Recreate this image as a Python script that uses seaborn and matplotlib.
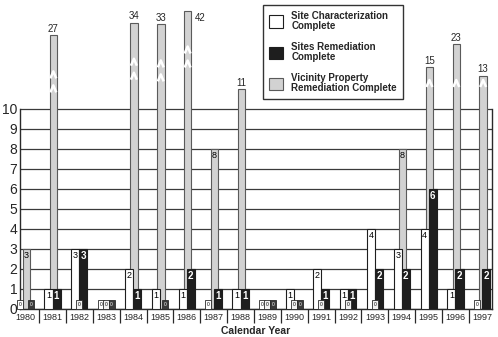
import numpy as np
import pandas as pd
import matplotlib
matplotlib.use("Agg")
import matplotlib.pyplot as plt
import seaborn as sns
from matplotlib.patches import Patch

# ---- data -------------------------------------------------------------
years = list(range(1980, 1998))
site_characterization = [0, 1, 3, 0, 2, 1, 1, 0, 1, 0, 1, 2, 1, 4, 3, 4, 1, 0]
sites_remediation = [0, 1, 3, 0, 1, 0, 2, 1, 1, 0, 0, 1, 1, 2, 2, 6, 2, 2]
vicinity_property = [3, 27, 0, 0, 34, 33, 42, 8, 11, 0, 0, 0, 0, 0, 8, 15, 23, 13]
series_labels = [
    "Site Characterization\nComplete",
    "Sites Remediation\nComplete",
    "Vicinity Property\nRemediation Complete",
]
y_ticks = list(range(0, 11))

df = pd.DataFrame({
    "year": years,
    "sc": site_characterization,
    "sr": sites_remediation,
    "vp": vicinity_property,
})

# ---- style ------------------------------------------------------------
sns.set_theme(style="white")
plt.rcParams["font.family"] = ["Liberation Sans", "DejaVu Sans"]

WHITE = "#ffffff"
BLACK = "#1e1e1e"
GRAY = "#d2d2d2"
GRAY_EDGE = "#5a5a5a"
LINE = "#2a2a2a"

# linear up to 10, compressed above (broken-axis look)
P = 0.46


def fwd(v):
    v = np.asarray(v, dtype=float)
    return np.where(v <= 10, v, 10 + np.clip(v - 10, 0, None) ** P)


def inv(t):
    t = np.asarray(t, dtype=float)
    return np.where(t <= 10, t, 10 + np.clip(t - 10, 0, None) ** (1 / P))


TOP_T = 15.45

fig = plt.figure(figsize=(4.98, 3.37), dpi=100)
ax = fig.add_axes([20 / 498, 1 - 309 / 337, 472 / 498, 309 / 337])

OFF_SC, OFF_SR, OFF_VP = -0.15, 0.15, 0.03
BAR_W = 0.3

vp = df[df.vp > 0]
sns.barplot(x=(vp.year + OFF_VP).to_numpy(), y=vp.vp.to_numpy(), native_scale=True,
            width=0.28, color=GRAY, edgecolor=GRAY_EDGE, linewidth=0.8,
            saturation=1, errorbar=None, ax=ax, zorder=2)
sc = df[df.sc > 0]
sns.barplot(x=(sc.year + OFF_SC).to_numpy(), y=sc.sc.to_numpy(), native_scale=True,
            width=BAR_W, color=WHITE, edgecolor=BLACK, linewidth=0.8,
            saturation=1, errorbar=None, ax=ax, zorder=3)
sr = df[df.sr > 0]
sns.barplot(x=(sr.year + OFF_SR).to_numpy(), y=sr.sr.to_numpy(), native_scale=True,
            width=BAR_W, color=BLACK, edgecolor=BLACK, linewidth=0.8,
            saturation=1, errorbar=None, ax=ax, zorder=3)

ax.set_yscale("function", functions=(fwd, inv))
ax.set_ylim(0, float(inv(TOP_T)))
ax.set_xlim(1979.79, 1997.36)

# ---- value labels -----------------------------------------------------
for yr, v in zip(years, site_characterization):
    if v > 0:
        ax.text(yr + OFF_SC, v - 0.08, str(v), ha="center", va="top",
                fontsize=6.5, color="black", zorder=5)
for yr, v in zip(years, sites_remediation):
    if v > 0:
        ax.text(yr + OFF_SR, v - 0.08, str(v), ha="center", va="top",
                fontsize=7, color="white", fontweight="bold", zorder=5)
for yr, v in zip(years, vicinity_property):
    x = yr + OFF_VP
    if v == 0:
        continue
    if v <= 10:
        ax.text(x, v - 0.08, str(v), ha="center", va="top",
                fontsize=6.5, color="black", zorder=5)
        continue
    top = float(fwd(v))
    if top + 1.0 > TOP_T:
        ax.annotate(str(v), (x, v), xytext=(5, -2), textcoords="offset points",
                    ha="left", va="top", fontsize=7, zorder=5)
    else:
        ax.annotate(str(v), (x, v), xytext=(0, 1), textcoords="offset points",
                    ha="center", va="bottom", fontsize=7, zorder=5)
    # break marks on the tall bars
    marks = [11.45] if v < 25 else [top - 2.5, top - 1.8]
    for t in marks:
        xs = [x - 0.11, x, x + 0.11]
        ts = [t - 0.35, t, t - 0.35]
        ax.plot(xs, inv(ts), color="white", lw=1.8, solid_capstyle="butt",
                zorder=4)

# zero markers
zero_specs = [
    (site_characterization, -0.2, WHITE, "black"),
    (vicinity_property, 0.0, "#f2f2f2", "black"),
    (sites_remediation, 0.2, "#3a3a3a", "white"),
]
for values, off, fc, tc in zero_specs:
    for yr, v in zip(years, values):
        if v == 0:
            ax.annotate("0", (yr + off, 0), xytext=(0, 1.3), textcoords="offset points",
                        ha="center", va="bottom", fontsize=3.5, color=tc, zorder=6,
                        bbox=dict(boxstyle="square,pad=0.35", fc=fc, ec=LINE, lw=0.6))

# ---- axes -------------------------------------------------------------
ax.set_yticks(y_ticks)
ax.set_yticklabels([str(t) for t in y_ticks], fontsize=10)
ax.tick_params(axis="y", length=0, pad=2)
ax.yaxis.grid(True, color="#3a3a3a", lw=0.9)
ax.xaxis.grid(False)
ax.set_axisbelow(True)

ax.set_xticks(years)
ax.set_xticklabels([str(y) for y in years], fontsize=6.5)
ax.set_xticks([y + 0.5 for y in years[:-1]], minor=True)
ax.tick_params(axis="x", which="major", length=0, pad=3)
ax.tick_params(axis="x", which="minor", length=10, width=0.9, color=LINE,
               direction="out", bottom=True)

ax.spines["top"].set_visible(False)
for side in ("left", "right"):
    ax.spines[side].set_bounds(0, 10)
    ax.spines[side].set_color(LINE)
    ax.spines[side].set_linewidth(1)
ax.spines["bottom"].set_color(LINE)
ax.spines["bottom"].set_linewidth(1)

ax.set_ylabel("")
ax.set_xlabel("Calendar Year", fontsize=7.5, fontweight="bold", labelpad=-1.5)

handles = [
    Patch(facecolor=WHITE, edgecolor=BLACK, linewidth=0.8),
    Patch(facecolor=BLACK, edgecolor=BLACK, linewidth=0.8),
    Patch(facecolor=GRAY, edgecolor=GRAY_EDGE, linewidth=0.8),
]
leg = fig.legend(handles, series_labels, loc="upper left",
                 bbox_to_anchor=(263 / 498, 1 - 5 / 337),
                 bbox_transform=fig.transFigure, borderaxespad=0,
                 frameon=True, fancybox=False,
                 edgecolor="black", prop={"size": 7, "weight": "bold"},
                 handlelength=1.5, handleheight=1.6, labelspacing=1.15,
                 borderpad=0.6, handletextpad=0.8)
leg.get_frame().set_linewidth(1)
for txt in leg.get_texts():
    txt.set_linespacing(1.0)

fig.savefig("out.png", dpi=100, facecolor="white")
